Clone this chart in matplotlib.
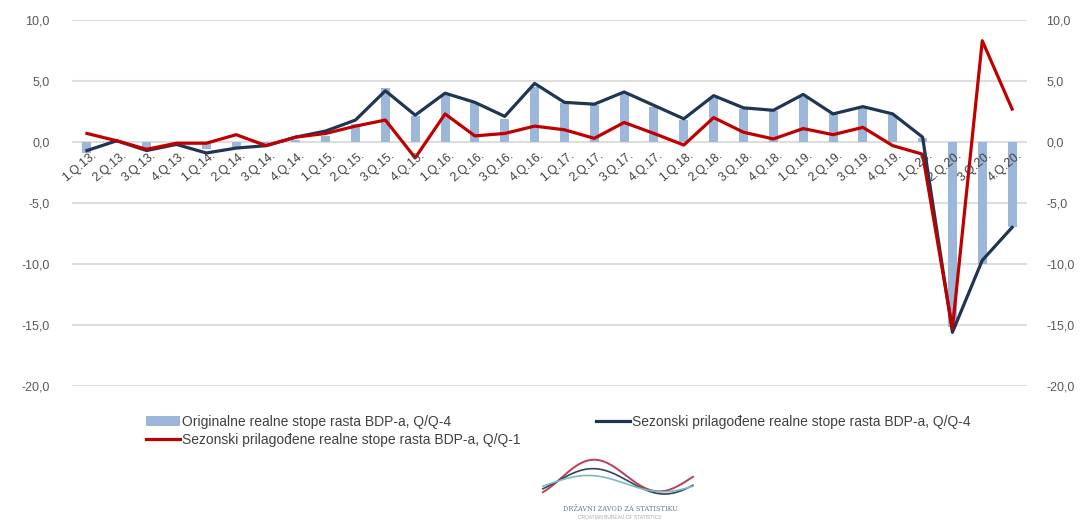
import numpy as np
import matplotlib
matplotlib.use('Agg')
import matplotlib.pyplot as plt
import matplotlib.ticker as ticker

plt.rcParams['font.family'] = ['Liberation Sans', 'DejaVu Sans']

# quarters 1.Q.13. .. 4.Q.20.
quarters = [f"{q}.Q.{y}." for y in range(13, 21) for q in range(1, 5)]

# Originalne realne stope rasta BDP-a, Q/Q-4 (bars)
original_yoy = [-0.9, -0.1, -0.5, -0.2, -0.6, -0.4, -0.3, 0.2,
                0.5, 1.5, 4.4, 2.1, 3.9, 3.2, 1.9, 4.5,
                3.2, 3.0, 4.0, 2.9, 1.8, 3.6, 2.7, 2.5,
                3.7, 2.3, 2.8, 2.2, 0.3, -15.2, -10.0, -7.0]

# Sezonski prilagodene realne stope rasta BDP-a, Q/Q-4 (dark line)
sa_yoy = [-0.7, 0.1, -0.7, -0.2, -0.9, -0.5, -0.3, 0.4,
          0.9, 1.8, 4.2, 2.2, 4.0, 3.25, 2.1, 4.8,
          3.25, 3.1, 4.1, 3.0, 1.9, 3.8, 2.8, 2.6,
          3.9, 2.3, 2.9, 2.3, 0.4, -15.6, -9.7, -7.0]

# Sezonski prilagodene realne stope rasta BDP-a, Q/Q-1 (red line)
sa_qoq = [0.7, 0.1, -0.6, -0.1, -0.1, 0.6, -0.3, 0.4,
          0.7, 1.3, 1.8, -1.3, 2.3, 0.5, 0.7, 1.3,
          1.0, 0.3, 1.6, 0.7, -0.25, 2.0, 0.8, 0.25,
          1.1, 0.6, 1.2, -0.3, -1.0, -15.3, 8.3, 2.7]

bar_color = '#9DB7DA'
dark_color = '#1F3552'
red_color = '#C00000'
grid_color = '#DEDEDE'
text_color = '#595959'

fig = plt.figure(figsize=(10.86, 5.25), dpi=100)
ax = fig.add_axes([0.0663, 0.2648, 0.8794, 0.6971])

x = np.arange(len(quarters))
bars = ax.bar(x, original_yoy, width=0.3, color=bar_color, zorder=2)
dark_line, = ax.plot(x, sa_yoy, color=dark_color, linewidth=2.3, zorder=3)
red_line, = ax.plot(x, sa_qoq, color=red_color, linewidth=2.3, zorder=4)

ax.set_xlim(-0.5, len(quarters) - 0.5)
ax.set_ylim(-20, 10)
ax.set_yticks(np.arange(-20, 10.1, 5))
fmt = ticker.FuncFormatter(lambda v, p: f"{v:.1f}".replace('.', ','))
ax.yaxis.set_major_formatter(fmt)
ax.yaxis.grid(True, color=grid_color, linewidth=1.5, zorder=0)
ax.set_axisbelow(True)
ax.set_xticks([])
ax.tick_params(axis='y', length=0, pad=16, labelsize=9, labelcolor=text_color)
for s in ax.spines.values():
    s.set_visible(False)

ax2 = ax.twinx()
ax2.set_ylim(ax.get_ylim())
ax2.set_yticks(np.arange(-20, 10.1, 5))
ax2.yaxis.set_major_formatter(fmt)
ax2.tick_params(axis='y', length=0, pad=14, labelsize=9, labelcolor=text_color)
for s in ax2.spines.values():
    s.set_visible(False)

# category labels next to the zero line
for i, q in enumerate(quarters):
    ax.annotate(q, xy=(i, 0), xytext=(3, -5), textcoords='offset points',
                rotation=40, rotation_mode='anchor', ha='right', va='top',
                fontsize=8.8, color='#404040', zorder=5)

fig.legend([bars, red_line, dark_line],
           ['Originalne realne stope rasta BDP-a, Q/Q-4',
            'Sezonski prilagođene realne stope rasta BDP-a, Q/Q-1',
            'Sezonski prilagođene realne stope rasta BDP-a, Q/Q-4'],
           loc='upper left', bbox_to_anchor=(0.1295, 0.220), ncol=2,
           frameon=False, fontsize=10, handlelength=2.45, handletextpad=0.15,
           columnspacing=5.4, labelspacing=0.3, borderaxespad=0,
           labelcolor='#404040')

# DZS logo
lax = fig.add_axes([0.493, 0.04, 0.152, 0.095])
t = np.linspace(0, 1, 200)
lax.plot(t, 0.55 + 0.42 * np.sin(2 * np.pi * (t * 1.15 - 0.15)) * (1 - 0.3 * t),
         color='#B8404F', linewidth=1.4)
lax.plot(t, 0.45 + 0.28 * np.sin(2 * np.pi * (t * 1.05 - 0.1)), color='#2F4563', linewidth=1.2)
lax.plot(t, 0.40 + 0.18 * np.sin(2 * np.pi * (t * 1.0 - 0.05)), color='#7FB8BF', linewidth=1.2)
lax.set_xlim(-0.05, 1.05)
lax.set_ylim(-0.05, 1.05)
lax.axis('off')
fig.text(0.571, 0.030, 'DRŽAVNI ZAVOD ZA STATISTIKU', ha='center', va='center',
         fontsize=4.8, color='#6C7A99', family=['DejaVu Serif'])
fig.text(0.571, 0.014, 'CROATIAN BUREAU OF STATISTICS', ha='center', va='center',
         fontsize=3.5, color='#A0A8B8')

fig.savefig('out.png', dpi=100)
